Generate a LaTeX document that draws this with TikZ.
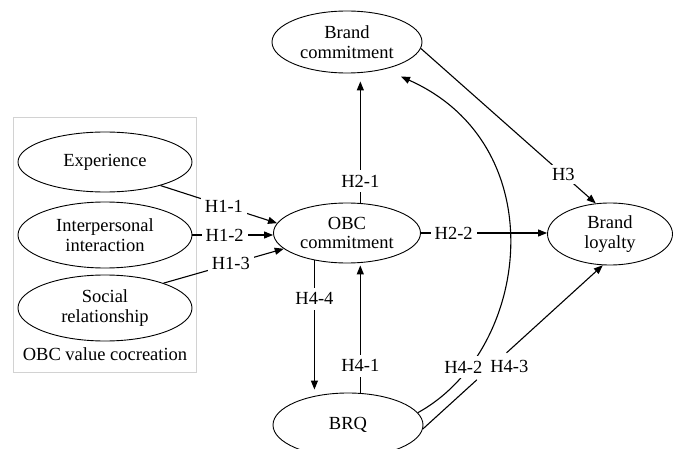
\documentclass[tikz,border=0pt]{standalone}
\usepackage{fontspec}
\setmainfont{Liberation Serif}
\usetikzlibrary{shapes.geometric,arrows.meta,calc}
\begin{document}
\begin{tikzpicture}[x=1pt,y=-1pt,
  txt/.style={font=\fontsize{18.5}{19.5}\selectfont},
  ell/.style={ellipse,draw,line width=0.9pt,inner sep=0pt,align=center,txt},
  lbl/.style={fill=white,inner xsep=4pt,inner ysep=5pt,txt},
  ln/.style={line width=1.1pt},
  arr/.style={line width=1.1pt,-{Triangle[length=9pt,width=7pt]}}]
\useasboundingbox (0,0) rectangle (677,449);
\draw[gray!35,line width=1pt] (13,118) rectangle (196,372);
\node[ell,minimum width=174pt,minimum height=60pt] (exp) at (105,162) {Experience};
\node[ell,minimum width=174pt,minimum height=66pt] (inter) at (105,235) {Interpersonal\\interaction};
\node[ell,minimum width=174pt,minimum height=66pt] (soc) at (105,308) {Social\\relationship};
\node[txt] (grp) at (105,354) {OBC value cocreation};
\node[ell,minimum width=147pt,minimum height=60pt] (obc) at (347,233) {OBC\\commitment};
\node[ell,minimum width=150pt,minimum height=62pt] (bc) at (347,42) {Brand\\commitment};
\node[ell,minimum width=125pt,minimum height=62pt] (bl) at (610,234) {Brand\\loyalty};
\node[ell,minimum width=150pt,minimum height=64pt] (brq) at (348,425) {BRQ};
% H1
\draw[arr] (exp.-23) -- node[lbl,pos=0.545] (h11) {H1-1} (obc.172);
\draw[arr] (inter.east) -- node[lbl,pos=0.40] (h12) {H1-2} (inter.east -| obc.west);
\draw[arr] (soc.23) -- node[lbl,pos=0.56] (h13) {H1-3} (obc.194);
% H2
\draw[arr,shorten >=8pt] (obc.66) -- node[lbl,pos=0.17] (h21) {H2-1} (obc.66 |- bc.south);
\draw[arr] (obc.east) -- node[lbl,pos=0.26] (h22) {H2-2} (obc.east -| bl.west);
% H3
\draw[arr] (bc.-5) -- node[lbl,pos=0.815,inner ysep=3pt] (h3) {H3} (bl.115);
% H4
\draw[arr,shorten >=3pt] (obc.220) -- node[lbl,pos=0.29] (h44) {H4-4} (obc.220 |- brq.north);
\draw[arr,shorten >=2pt] (brq.69) -- node[lbl,pos=0.21] (h41) {H4-1} (brq.69 |- obc.south);
\draw[arr,shorten >=18pt] (brq.10) .. controls +(113,-62) and +(171,76) .. node[lbl,pos=0.17,xshift=-4pt,yshift=3pt] (h42) {H4-2} (bc.-36);
\draw[ln] (brq.-3) -- ($(brq.-3)!0.30!(bl.257)$);
\draw[arr] ($(brq.-3)!0.465!(bl.257)$) -- (bl.257);
\node[txt] (h43) at ($(brq.-3)!0.38!(bl.257)$) [xshift=18pt] {H4-3};
\end{tikzpicture}
\end{document}
